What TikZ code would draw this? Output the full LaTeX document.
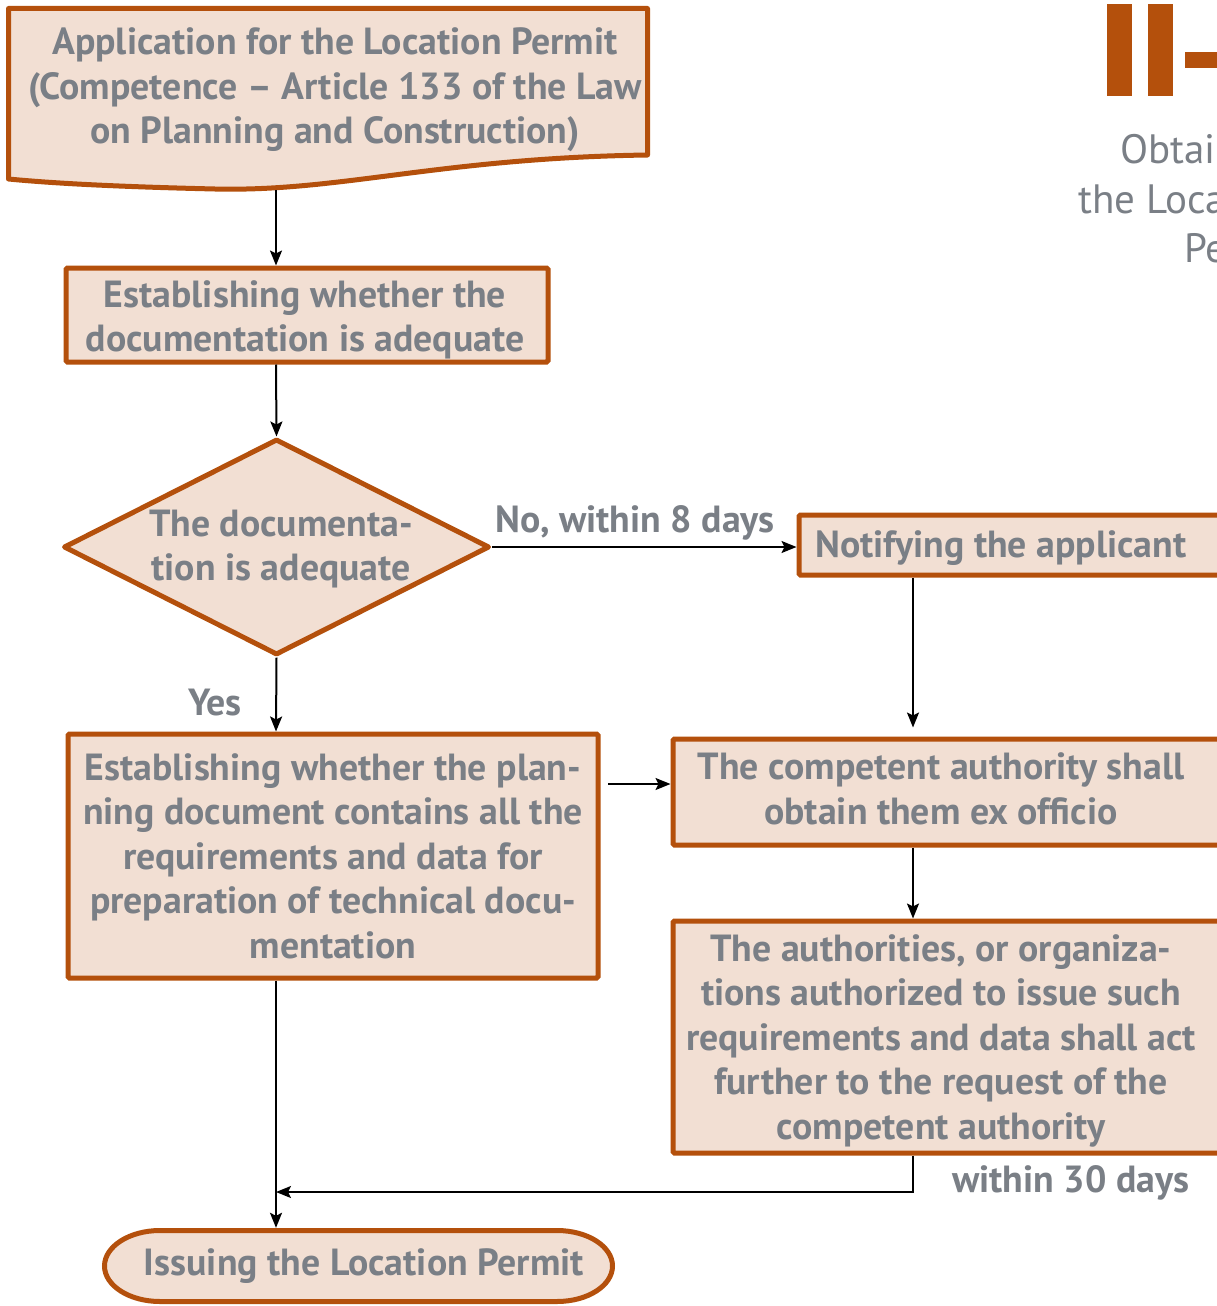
\documentclass[tikz,border=0pt]{standalone}
\usepackage{fontspec}
\setmainfont{PT Sans}
\usetikzlibrary{shapes.geometric,arrows.meta,calc}
\definecolor{rust}{HTML}{B4500C}
\definecolor{peach}{HTML}{F2DFD3}
\definecolor{slate}{HTML}{7A7F86}
\begin{document}
\begin{tikzpicture}[x=1pt,y=-1pt,
  box/.style={draw=rust, fill=peach, line width=5pt, rounded corners=1.5pt, inner sep=0pt},
  txt/.style={text=slate, font=\bfseries\fontsize{37.8}{44.5}\selectfont, align=center, inner sep=0pt},
  lbl/.style={text=slate, font=\bfseries\fontsize{37.8}{44}\selectfont, inner sep=0pt},
  arr/.style={draw=black, line width=2pt, -{Stealth[length=15pt,width=12pt,inset=3pt]}}]
\useasboundingbox (0,0) rectangle (1217,1306);
\fill[white] (0,0) rectangle (1217,1306);

% heading marks and title in the upper right corner
\fill[rust] (1107,4) rectangle (1132,96);
\fill[rust] (1148,4) rectangle (1173,96);
\fill[rust] (1185,52) rectangle (1240,68);
\node[anchor=base west, text=slate, font=\fontsize{41}{48}\selectfont, inner sep=0pt] (titleA) at (1120,163) {Obtaining};
\node[anchor=base west, text=slate, font=\fontsize{41}{48}\selectfont, inner sep=0pt] (titleB) at (1078,213) {the Location};
\node[anchor=base west, text=slate, font=\fontsize{41}{48}\selectfont, inner sep=0pt] (titleC) at (1184,262) {Permit};

% application: document shape with a wavy lower edge
\draw[draw=rust, fill=peach, line width=5pt, line join=round]
  (8.5,8.5) -- (647.5,8.5) -- (647.5,155)
  .. controls (440,158) and (340,192) .. (215,189)
  .. controls (130,187) and (60,184) .. (8.5,179) -- cycle;
\node[txt] (app) at (335,90) {Application for the Location Permit\\(Competence – Article 133 of the Law\\on Planning and Construction)};
\coordinate (appbot) at (276,190);

% process steps
\node[box, minimum width=482, minimum height=94] (check) at (307,315) {};
\node[txt] (checktext) at (305,320) {Establishing whether the\\documentation is adequate};

\node[diamond, draw=rust, fill=peach, line width=5pt, line join=round, inner sep=0pt,
  aspect=1.96, minimum width=426, minimum height=216] (dec) at (276.5,547) {};
\node[txt] (dectext) at (281,549) {The documenta-\\tion is adequate};

\node[box, minimum width=460, minimum height=60] (notify) at (1029,545) {};
\node[txt, anchor=west] (notifytext) at (815,548) {Notifying the applicant};

\node[box, txt, minimum width=530, minimum height=244] (plan) at (333,856)
  {Establishing whether the plan-\\ning document contains all the\\requirements and data for\\preparation of technical docu-\\mentation};

\node[box, minimum width=560, minimum height=106] (comp) at (953,792) {};
\node[txt] (comptext) at (941,789) {The competent authority shall\\obtain them ex officio};

\node[box, minimum width=560, minimum height=232] (auth) at (953,1037) {};
\node[txt] (authtext) at (941,1040.5) {The authorities, or organiza-\\tions authorized to issue such\\requirements and data shall act\\further to the request of the\\competent authority};

% terminator
\draw[draw=rust, fill=peach, line width=5pt]
  (160,1230.5) -- (557,1230.5)
  .. controls (587.6,1230.5) and (612.5,1246.4) .. (612.5,1266)
  .. controls (612.5,1285.6) and (587.6,1301.5) .. (557,1301.5)
  -- (160,1301.5)
  .. controls (129.4,1301.5) and (104.5,1285.6) .. (104.5,1266)
  .. controls (104.5,1246.4) and (129.4,1230.5) .. (160,1230.5) -- cycle;
\node[txt, minimum width=508, minimum height=76] (issue) at (364,1266) {Issuing the Location Permit};

% connectors
\coordinate (spine) at (276,0);
\coordinate (notx) at (913,0);
\coordinate (planout) at (608,784);
\coordinate (join) at (276,1192);

\draw[arr] (appbot) -- (appbot |- check.north);
\draw[arr] (spine |- check.south) -- (dec.north);
\draw[arr] (dec.east) -- (dec.east -| notify.west);
\node[lbl] (nolabel) at (635,523) {No, within 8 days};
\draw[arr] (dec.south) -- (spine |- plan.north);
\node[lbl] (yes) at (215,703) {Yes};
\draw[arr] (planout) -- (planout -| comp.west);
\draw[arr, shorten >=9pt] (notx |- notify.south) -- (notx |- comp.north);
\draw[arr] (notx |- comp.south) -- (notx |- auth.north);
\draw[arr] (notx |- auth.south) |- (join);
\node[lbl, anchor=west] (within) at (952,1183) {within 30 days};
\draw[arr] (spine |- plan.south) -- (spine |- issue.north);
\end{tikzpicture}
\end{document}
